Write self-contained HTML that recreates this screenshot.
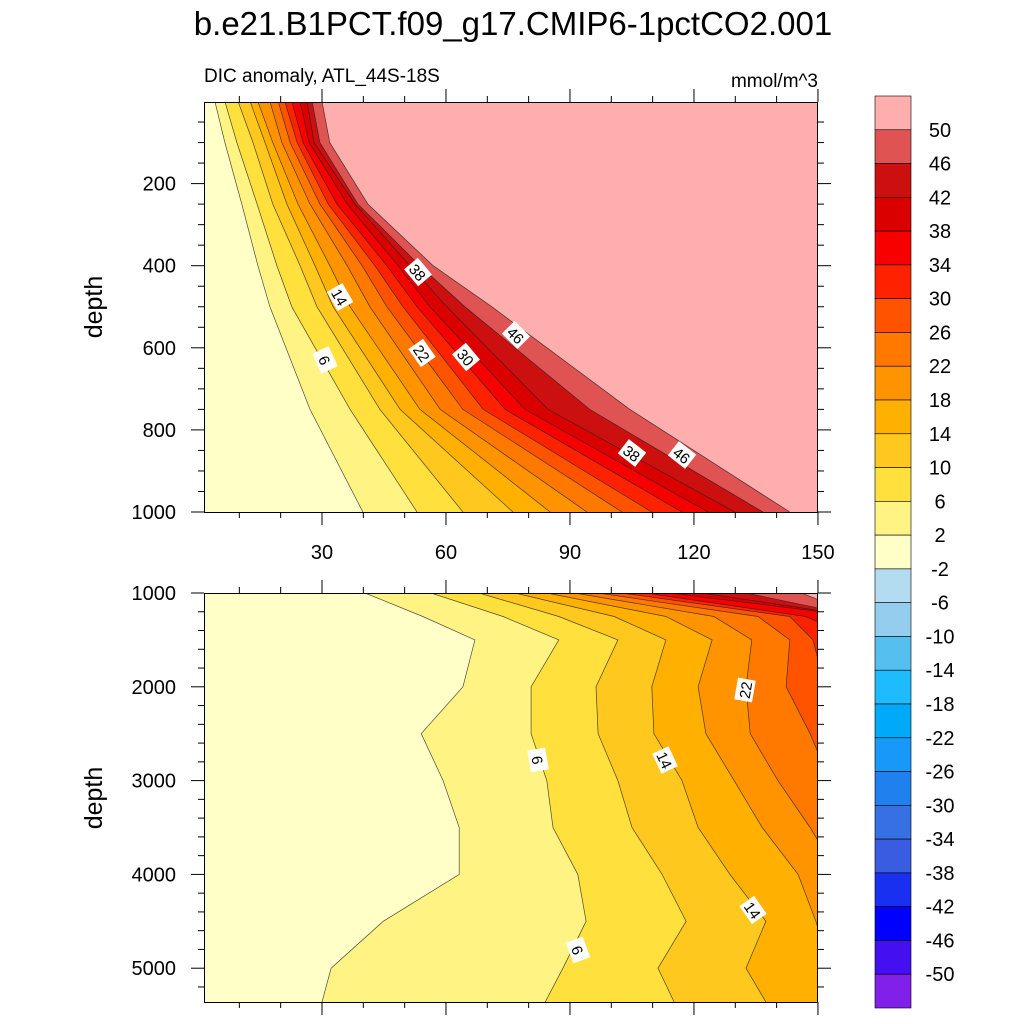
<!DOCTYPE html>
<html><head><meta charset="utf-8"><style>
html,body{margin:0;padding:0;background:#fff;}
svg{display:block;font-family:"Liberation Sans",sans-serif;}
</style></head><body>
<svg id="chart" width="1024" height="1024" viewBox="0 0 1024 1024" xmlns="http://www.w3.org/2000/svg">
<text x="513" y="35" font-size="33" text-anchor="middle">b.e21.B1PCT.f09_g17.CMIP6-1pctCO2.001</text>
<text x="204" y="82" font-size="19">DIC anomaly, ATL_44S-18S</text>
<text x="818" y="87" font-size="19" text-anchor="end">mmol/m^3</text>
<text transform="translate(102,307) rotate(-90)" font-size="25" text-anchor="middle">depth</text>
<text transform="translate(102,798) rotate(-90)" font-size="25" text-anchor="middle">depth</text>
<defs>
<clipPath id="clipTop"><rect x="204" y="102" width="614" height="410"/></clipPath>
<clipPath id="clipBot"><rect x="204" y="593" width="614" height="409"/></clipPath>
</defs>
<g id="topPanel" clip-path="url(#clipTop)"></g>
<g id="botPanel" clip-path="url(#clipBot)"></g>
<g id="axes"></g>
<g id="labels"></g>
<g id="cbar"></g>
</svg>
<script>
// contour levels and colors
const levels = [2,6,10,14,18,22,26,30,34,38,42,46,50];
const bandColors = ["#FFFFC8","#FFF383","#FFE03C","#FFC81E","#FFB000","#FF9400","#FF7800","#FF5300","#FF2200","#F80000","#DB0000","#CC1010","#E05353","#FFAEAE"];
const cbarLabels = ["50","46","42","38","34","30","26","22","18","14","10","6","2","-2","-6","-10","-14","-18","-22","-26","-30","-34","-38","-42","-46","-50"];
const cbarColors = ["#FFAEAE","#E05353","#CC1010","#DB0000","#F80000","#FF2200","#FF5300","#FF7800","#FF9400","#FFB000","#FFC81E","#FFE03C","#FFF383","#FFFFC8","#B4DCF0","#94CDEE","#55C0F0","#1EBCFF","#00AAF8","#1898F8","#2080EE","#3670E2","#3A5CE0","#1A30F0","#0000FF","#4410F0","#8020E8"];
// top panel: year at which each level is reached, per depth
const topDepths = [0,100,250,400,500,750,1000];
const topIso = [
 [4.1,6.5,10.6,14.5,17.4,27.1,39.9],
 [6.5,9.4,14.3,19.1,22.7,36.8,53.0],
 [9.7,13.3,18.1,24.7,28.8,44.0,64.1],
 [12.6,16.2,21.5,28.3,32.7,48.9,76.2],
 [14.5,18.1,24.2,31.9,36.8,53.7,85.2],
 [17.4,20.3,27.1,36.1,41.6,58.6,94.1],
 [19.4,22.3,29.5,39.7,45.7,64.1,102.6],
 [21.0,24.0,31.5,42.8,49.6,69.0,109.8],
 [22.7,25.4,33.6,45.7,53.0,74.3,117.1],
 [24.7,26.9,36.1,48.4,56.1,79.1,123.4],
 [26.4,28.1,38.0,51.3,60.2,84.7,129.9],
 [27.6,29.5,38.7,53.7,64.6,94.8,136.7],
 [30.0,31.9,41.1,56.9,71.1,104.5,143.2]
];
// bottom panel
const botDepths = [1000,1250,1500,2000,2500,3000,3500,4000,4500,5000,5360];
const botIso = [
 [40.4,54.4,67.0,64.1,54.0,59.3,63.2,63.2,44.8,32.2,30.0],
 [56.4,73.8,87.3,80.6,80.6,84.4,85.9,91.9,93.9,88.3,84.0],
 [68.0,87.3,101.6,96.3,96.8,101.6,105.0,112.3,118.1,111.3,115.2],
 [76.7,100.7,113.2,109.8,110.3,117.1,121.0,128.7,137.4,132.6,137.4],
 [84.4,113.2,124.4,121.0,122.9,129.7,136.5,145.2,149.5,152.9,152.9],
 [91.2,124.8,134.0,132.6,133.6,140.3,148.1,154.9,160,160,160],
 [96.8,135.5,143.2,142.3,148.1,152.9,160,160,160,160,160],
 [102.6,143.2,148.8,151.7,160,160,160,160,160,160,160],
 [108.4,147.0,160,160,160,160,160,160,160,160,160],
 [114.2,160,160,160,160,160,160,160,160,160,160],
 [121.9,160,160,160,160,160,160,160,160,160,160],
 [132.6,160,160,160,160,160,160,160,160,160,160],
 [146.1,160,160,160,160,160,160,160,160,160,160]
];
const xTicks = [30,60,90,120,150];
const topYTicks = [200,400,600,800,1000];
const botYTicks = [1000,2000,3000,4000,5000];

const NS="http://www.w3.org/2000/svg";
const X = t => 198 + t*4.133;
const Ytop = d => 101.5 + d*0.4105;
const Ybot = d => 593 + (d-1000)*0.0938;
function mk(tag, attrs, parent){const e=document.createElementNS(NS,tag);for(const k in attrs)e.setAttribute(k,attrs[k]);parent.appendChild(e);return e;}

function drawPanel(g, depths, iso, Y, y0, y1){
  const bg = mk('rect',{x:200,y:y0-2,width:630,height:y1-y0+4,fill:bandColors[0]},g);
  
  
  iso.forEach((row,i)=>{
    const pts=row.map((t,k)=>X(t).toFixed(1)+','+Y(depths[k]).toFixed(1));
    const poly=mk('polygon',{points:pts.join(' ')+' 840,'+(y1+5)+' 840,'+(y0-5),fill:bandColors[i+1]},g);
    
    
  });
  iso.forEach((row,i)=>{
    const pts=row.map((t,k)=>X(t).toFixed(1)+','+Y(depths[k]).toFixed(1));
    const line=mk('polyline',{points:pts.join(' '),fill:'none',stroke:'#222','stroke-width':0.7,'stroke-opacity':0.8},g);
    
    
  });
}
drawPanel(document.getElementById('topPanel'), topDepths, topIso, Ytop, 102, 512);
drawPanel(document.getElementById('botPanel'), botDepths, botIso, Ybot, 593, 1002);

const ax=document.getElementById('axes');
function frame(y0,y1,yticksMaj,yMinStep,yMinFrom,yMinTo,Y,showX){
  const r=mk('rect',{x:204.5,y:y0+0.5,width:613,height:y1-y0,fill:'none',stroke:'#000','stroke-width':1},ax);
  
  
  for(let t=10;t<=150;t+=10){
    const maj=(t%30===0), L=maj?13:6;
    mk('line',{x1:X(t),x2:X(t),y1:y0,y2:y0-L,stroke:'#000','stroke-width':1},ax);
    mk('line',{x1:X(t),x2:X(t),y1:y1,y2:y1+L,stroke:'#000','stroke-width':1},ax);
  }
  for(let d=yMinFrom; d<=yMinTo; d+=yMinStep){
    const maj=yticksMaj.includes(d), L=maj?13:6, yy=Y(d);
    if(yy<y0-0.5||yy>y1+0.5) continue;
    mk('line',{x1:204,x2:204-L,y1:yy,y2:yy,stroke:'#000','stroke-width':1},ax);
    mk('line',{x1:818,x2:818+L,y1:yy,y2:yy,stroke:'#000','stroke-width':1},ax);
  }
  yticksMaj.forEach(d=>{
    const tx=mk('text',{x:176,y:Y(d)+7,'font-size':20,'text-anchor':'end'},ax);
    tx.textContent=d;
    
    
  });
  if(showX) xTicks.forEach(t=>{
    const tx=mk('text',{x:X(t),y:559,'font-size':20,'text-anchor':'middle'},ax);
    tx.textContent=t;
    
    
  });
}
frame(102,512,topYTicks,50,50,1000,Ytop,true);
frame(593,1002,botYTicks,200,1000,5400,Ybot,false);

// contour labels [text, x, y, angle]
const clabels=[["38",418,272,50],["14",340,297,60],["6",325,360,65],["22",422,353,55],["30",466,357,50],["46",516,335,45],["38",632,453,38],["46",682,455,38],
 ["6",538,760,80],["14",665,760,65],["22",745,690,-80],["14",753,910,55],["6",578,950,70]];
const lg=document.getElementById('labels');
clabels.forEach(c=>{
  const g=mk('g',{transform:`translate(${c[1]},${c[2]}) rotate(${c[3]})`},lg);
  
  
  mk('rect',{x:-11,y:-9,width:22,height:18,fill:'#fff'},g);
  const t=mk('text',{x:0,y:6,'font-size':15,'text-anchor':'middle'},g);
  t.textContent=c[0];
});

// colorbar
const cb=document.getElementById('cbar');
const cbTop=96, cbH=(1008-96)/cbarColors.length;
cbarColors.forEach((c,i)=>{
  const r=mk('rect',{x:875,y:cbTop+i*cbH,width:36,height:cbH,fill:c,stroke:'#000','stroke-width':0.6},cb);
  
  
});
cbarLabels.forEach((l,i)=>{
  const t=mk('text',{x:940,y:cbTop+(i+1)*cbH+7,'font-size':20,'text-anchor':'middle'},cb);
  t.textContent=l;
  
  
});
</script>
</body></html>
